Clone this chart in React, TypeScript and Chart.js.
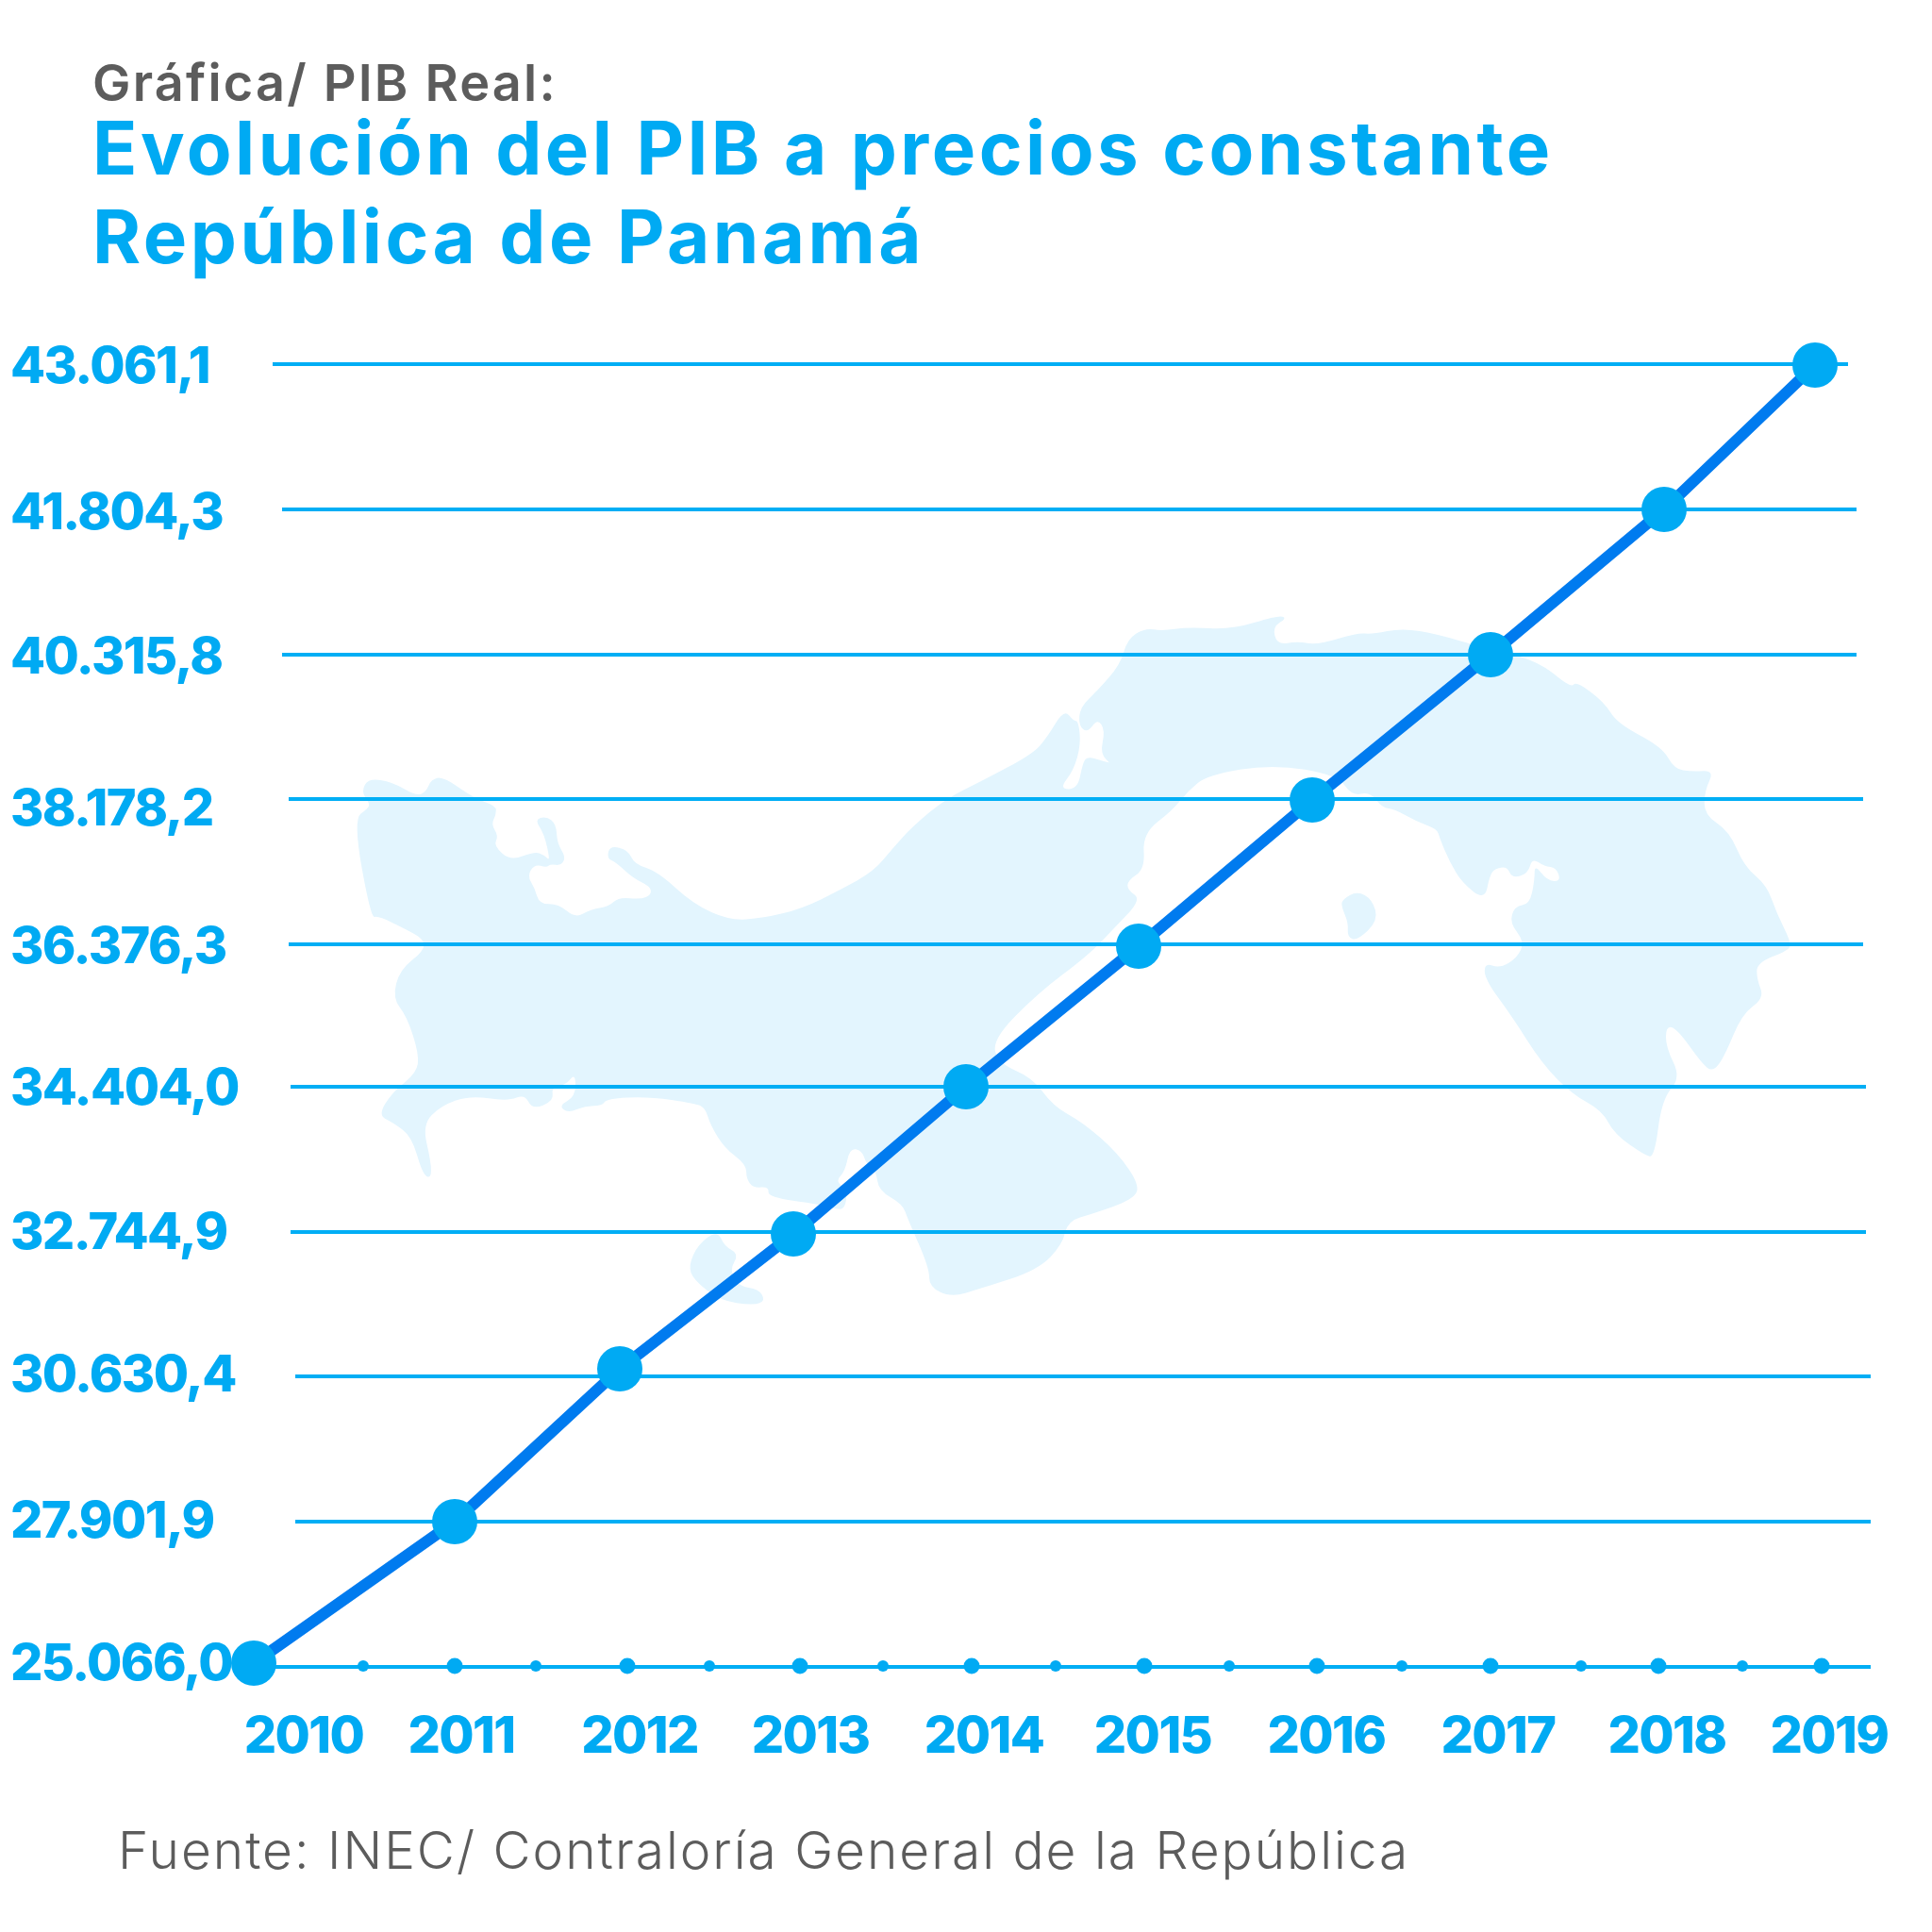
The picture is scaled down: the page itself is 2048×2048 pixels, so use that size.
import React, { useEffect, useRef } from 'react';
import { Chart, registerables, LinearScale } from 'chart.js';

const years = [2010, 2011, 2012, 2013, 2014, 2015, 2016, 2017, 2018, 2019];
const pibValues = [25066.0, 27901.9, 30630.4, 32744.9, 34404.0, 36376.3, 38178.2, 40315.8, 41804.3, 43061.1];
const pibLabels = ['25.066,0', '27.901,9', '30.630,4', '32.744,9', '34.404,0', '36.376,3', '38.178,2', '40.315,8', '41.804,3', '43.061,1'];
const subtitleText = 'Gráfica/ PIB Real:';
const titleLines = ['Evolución del PIB a precios constante', 'República de Panamá'];
const sourceText = 'Fuente: INEC/ Contraloría General de la República';

const BLUE = '#00aaf3';
const LINE = '#007bef';
const GRID = '#00aef5';
const GRAY = '#5c5c5c';
const FAMILY = 'Inter, sans-serif';

// Layout (axis knots and decorations), kept apart from the data.
const xKnots = [269, 482, 657, 841, 1024, 1207, 1391, 1580, 1764, 1924];
const yKnots = [1763, 1613, 1451, 1308, 1152, 1003, 848, 694, 540, 387];
const xLabelPx = [322, 489, 678, 859, 1043, 1222, 1406, 1588, 1767, 1939];
const yLabelPx = [1765, 1614, 1459, 1308, 1155, 1005, 859, 698, 545, 390];
const rowPx = [1767, 1613, 1459, 1306, 1152, 1001, 847, 694, 540, 386];
const rowStartPx = [269, 313, 313, 308, 308, 306, 306, 299, 299, 289];
const rowEndPx = [1983, 1983, 1983, 1978, 1978, 1975, 1975, 1968, 1968, 1959];
const dotPx = [385, 482, 568, 665, 752, 848, 936, 1030, 1119, 1213, 1303, 1396, 1486, 1580, 1676, 1758, 1847, 1931];

function lerp(v: number, from: number[], to: number[]) {
  let i = 0;
  while (i < from.length - 2 && (from[1] > from[0] ? v > from[i + 1] : v < from[i + 1])) i++;
  return to[i] + ((v - from[i]) / (from[i + 1] - from[i])) * (to[i + 1] - to[i]);
}

class KnotScale extends (LinearScale as any) {
  static id = 'knot';
  static defaults = (LinearScale as any).defaults;
  buildTicks() {
    return (this as any).options.tickValues.map((value: number) => ({ value }));
  }
  getPixelForValue(v: number) {
    const o = (this as any).options;
    return lerp(v, o.knotValues, o.knotPixels);
  }
  getValueForPixel(p: number) {
    const o = (this as any).options;
    return lerp(p, o.knotPixels, o.knotValues);
  }
  getPixelForTick(i: number) {
    return (this as any).options.labelPixels[i];
  }
}

const Z1 = (p: number[][]) => p.map(([x, y]) => [360 + x / 1.96, 630 + y / 2.01]);
const Z2 = (p: number[][]) => p.map(([x, y]) => [1100 + x / 1.889, 630 + y / 2.01]);

const mapMain = [
  ...Z1([[28,480],[60,455],[62,445],[45,420],[60,392],[110,400],[160,430],[180,420],[190,395],[215,388],[280,435],[325,450],[325,470],[315,490],[330,515],[320,535],[355,568],[405,548],[425,555],[438,570],[425,510],[405,480],[430,473],[450,490],[452,530],[470,560],[460,578],[438,575],[430,582],[405,575],[390,600],[405,625],[415,660],[455,660],[490,690],[520,672],[560,665],[580,645],[625,650],[648,640],[645,622],[610,605],[575,572],[555,562],[562,535],[600,545],[612,575],[660,590],[735,660],[810,695],[880,690],[960,670],[1040,630],[1110,590],[1150,540],[1190,495],[1260,435],[1340,395],[1440,340],[1470,305],[1505,245],[1525,270],[1535,270],[1540,320],[1525,375],[1495,415]]),
  ...Z2([[80,415],[90,360],[100,345],[130,355],[165,365],[150,380],[150,365],[125,340],[135,290],[120,265],[100,295],[82,280],[85,240],[120,205],[165,150],[180,95],[215,72],[250,78],[300,70],[390,75],[480,45],[500,50],[470,70],[480,108],[520,100],[560,108],[640,82],[670,85],[730,72],[800,85],[880,110],[1000,140],[1068,200],[1078,185],[1135,230],[1160,275],[1250,325],[1275,372],[1310,378],[1355,375],[1335,420],[1335,470],[1385,505],[1415,580],[1460,620],[1480,680],[1508,740],[1505,758],[1440,785],[1440,820],[1455,860],[1410,895],[1375,985],[1352,1018],[1330,1000],[1280,925],[1258,920],[1258,965],[1288,1030],[1250,1075],[1235,1200],[1215,1195],[1155,1150],[1130,1100],[1070,1065],[1010,1000],[950,900],[895,820],[895,785],[925,797],[960,775],[975,740],[945,700],[955,665],[985,660],[995,610],[995,575],[1020,610],[1048,612],[1038,582],[1015,580],[990,562],[982,595],[950,605],[940,580],[915,585],[905,600],[895,652],[850,615],[825,570],[805,520],[800,500],[760,485],[715,458],[690,455],[665,420],[630,430],[600,385],[470,362],[340,385],[300,420],[270,460],[210,510],[215,585],[180,610],[180,630],[208,650],[150,715],[100,770],[0,850]]),
  ...Z1([[1355,950],[1370,1000],[1440,1030]]),
  ...Z2([[30,1090],[90,1125],[160,1190],[205,1260],[190,1290],[110,1320],[60,1335],[50,1385],[0,1440]]),
  ...Z1([[1330,1480],[1270,1498],[1225,1475],[1225,1435],[1180,1330],[1170,1300],[1120,1270],[1115,1230],[1095,1215],[1085,1185],[1060,1180],[1050,1230],[1030,1250],[1055,1270],[1050,1310],[1030,1310],[1000,1300],[890,1285],[892,1262],[860,1265],[845,1245],[845,1215],[800,1180],[770,1130],[760,1095],[740,1085],[640,1070],[555,1075],[545,1090],[510,1090],[475,1105],[455,1090],[490,1070],[490,1020],[470,1045],[440,1050],[445,1080],[400,1098],[385,1065],[350,1080],[270,1068],[210,1090],[172,1130],[190,1210],[190,1245],[172,1235],[150,1155],[110,1125],[80,1110],[110,1060],[160,1020],[165,980],[140,900],[110,860],[125,800],[175,760],[175,735],[140,715],[80,685],[65,690]]),
];
const mapIslandEast = Z2([[610,650],[640,632],[670,650],[682,695],[640,738],[620,730],[622,700],[608,665]]);
const mapIslandSouth = Z1([[785,1355],[800,1390],[830,1405],[810,1440],[830,1475],[870,1480],[885,1505],[860,1515],[790,1505],[735,1460],[725,1430],[745,1385]]);

function smooth(ctx: CanvasRenderingContext2D, pts: number[][]) {
  const n = pts.length;
  ctx.moveTo((pts[n - 1][0] + pts[0][0]) / 2, (pts[n - 1][1] + pts[0][1]) / 2);
  for (let i = 0; i < n; i++) {
    const nx = pts[(i + 1) % n];
    ctx.quadraticCurveTo(pts[i][0], pts[i][1], (pts[i][0] + nx[0]) / 2, (pts[i][1] + nx[1]) / 2);
  }
  ctx.closePath();
}

// The reference face (a wide geometric sans) is not installed: track the text to its widths.
function trackingFor(font: string) {
  if (font.startsWith('800')) return '-1.6px';
  if (font.startsWith('bold') || font.startsWith('700')) return '3.5px';
  if (font.startsWith('600')) return '2.2px';
  if (font.startsWith('300')) return '2px';
  return '0px';
}

const decorPlugin = {
  id: 'decor',
  beforeInit(chart: any) {
    const ctx = chart.ctx;
    const fill = ctx.fillText.bind(ctx);
    ctx.fillText = (text: string, x: number, y: number) => {
      ctx.letterSpacing = trackingFor(ctx.font);
      fill(text, x, y);
    };
  },
  beforeDatasetsDraw(chart: any) {
    const ctx = chart.ctx;
    ctx.save();
    ctx.fillStyle = '#e3f5fe';
    ctx.beginPath();
    smooth(ctx, mapMain);
    smooth(ctx, mapIslandEast);
    smooth(ctx, mapIslandSouth);
    ctx.fill();
    ctx.restore();
  },
  afterDraw(chart: any) {
    const ctx = chart.ctx;
    ctx.save();
    ctx.fillStyle = GRAY;
    ctx.font = `300 55px ${FAMILY}`;
    ctx.textBaseline = 'alphabetic';
    ctx.textAlign = 'left';
    ctx.fillText(sourceText, 125, 1981);
    ctx.restore();
  },
};

export default function App() {
  const ref = useRef<HTMLCanvasElement>(null);
  useEffect(() => {
    Chart.register(...registerables, KnotScale as any);
    const yearAt = (px: number) => lerp(px, xKnots, years);
    const valueAt = (px: number) => lerp(px, yKnots, pibValues);
    const rowLines = rowPx.map((py, i) => ({
      data: [
        { x: yearAt(rowStartPx[i]), y: valueAt(py) },
        { x: yearAt(rowEndPx[i]), y: valueAt(py) },
      ],
      borderColor: GRID,
      borderWidth: 4,
      pointRadius: 0,
      clip: false,
    }));
    const chart = new Chart(ref.current as HTMLCanvasElement, {
      type: 'line',
      data: {
        datasets: [
          {
            label: 'PIB',
            data: years.map((x, i) => ({ x, y: pibValues[i] })),
            borderColor: LINE,
            borderWidth: 12,
            backgroundColor: BLUE,
            pointBackgroundColor: BLUE,
            pointBorderWidth: 0,
            pointRadius: 24,
            tension: 0,
            clip: false,
          },
          {
            label: 'marcas',
            data: dotPx.map((px) => ({ x: yearAt(px), y: valueAt(1766) })),
            showLine: false,
            pointBackgroundColor: BLUE,
            pointBorderWidth: 0,
            pointRadius: dotPx.map((_, i) => (i % 2 === 0 ? 6 : 8.5)),
            clip: false,
          },
          ...rowLines,
        ] as any,
      },
      options: {
        animation: false,
        responsive: false,
        layout: { padding: { left: 98, right: 0, top: 0, bottom: 156 } },
        plugins: {
          legend: { display: false },
          tooltip: { enabled: false },
          title: {
            display: true,
            text: subtitleText,
            align: 'start',
            color: GRAY,
            font: { family: FAMILY, size: 54, weight: '600', lineHeight: 1 },
            padding: { top: 64, bottom: -4 },
          },
          subtitle: {
            display: true,
            text: titleLines,
            align: 'start',
            color: BLUE,
            font: { family: FAMILY, size: 78, weight: '700', lineHeight: 1.21 },
            padding: { top: 0, bottom: 0 },
          },
        },
        scales: {
          x: {
            type: 'knot',
            min: 2009,
            max: 2020,
            knotValues: years,
            knotPixels: xKnots,
            tickValues: years,
            labelPixels: xLabelPx,
            grid: { display: false },
            border: { display: false },
            ticks: {
              color: BLUE,
              autoSkip: false,
              maxRotation: 0,
              padding: 18,
              font: { family: FAMILY, size: 54, weight: '800' },
              callback: (v: number) => String(v),
            },
          },
          y: {
            type: 'knot',
            min: 20000,
            max: 50000,
            knotValues: pibValues,
            knotPixels: yKnots,
            tickValues: pibValues,
            labelPixels: yLabelPx,
            grid: { display: false },
            border: { display: false },
            afterFit: (s: any) => { s.width = 0; },
            ticks: {
              color: BLUE,
              autoSkip: false,
              mirror: true,
              padding: -87,
              font: { family: FAMILY, size: 54, weight: '800' },
              callback: (_: number, i: number) => pibLabels[i],
            },
          },
        },
      } as any,
      plugins: [decorPlugin],
    });
    return () => chart.destroy();
  }, []);
  return (
    <div style={{ position: 'absolute', left: 0, top: 0, width: 2048, height: 2048, background: '#fff' }}>
      <canvas ref={ref} width={2048} height={2048} style={{ display: 'block' }} />
    </div>
  );
}
